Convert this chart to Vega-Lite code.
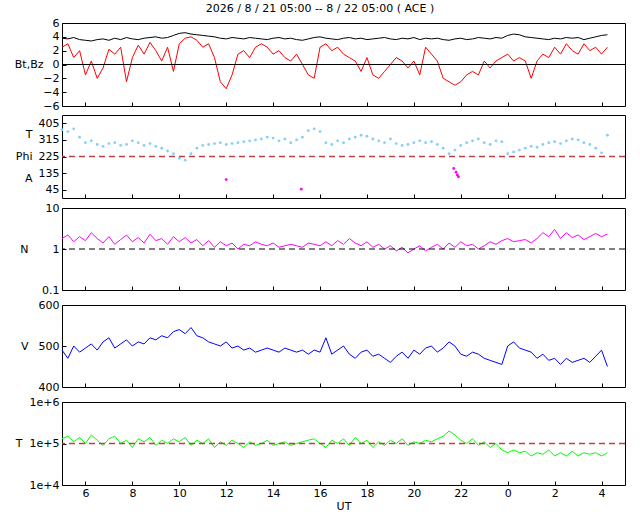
{
  "$schema": "https://vega.github.io/schema/vega-lite/v6.json",
  "padding": {"left": 13, "top": 2, "right": 2, "bottom": 2},
  "title": {"text": "2026 /  8 / 21   05:00 -- 8 / 22   05:00 ( ACE )", "font": "DejaVu Sans", "fontSize": 11, "fontWeight": "normal", "offset": 3, "anchor": "middle"},
  "spacing": 2,
  "datasets": {
    "ace": [
      {"t":5.0,"bt":3.8,"bz":2.5,"ph":370,"n":1.8,"v":490,"tp":130000},
      {"t":5.25,"bt":3.7,"bz":3.0,"ph":360,"n":2.2,"v":470,"tp":150000},
      {"t":5.5,"bt":3.9,"bz":1.0,"ph":375,"n":1.5,"v":500,"tp":110000},
      {"t":5.75,"bt":3.6,"bz":2.0,"ph":330,"n":2.0,"v":485,"tp":140000},
      {"t":6.0,"bt":3.5,"bz":-1.5,"ph":300,"n":1.6,"v":495,"tp":100000},
      {"t":6.25,"bt":3.4,"bz":0.5,"ph":310,"n":2.5,"v":505,"tp":160000},
      {"t":6.5,"bt":3.6,"bz":-2.0,"ph":290,"n":1.8,"v":490,"tp":120000},
      {"t":6.75,"bt":3.7,"bz":-0.5,"ph":280,"n":1.4,"v":510,"tp":90000},
      {"t":7.0,"bt":3.5,"bz":2.2,"ph":295,"n":2.0,"v":520,"tp":130000},
      {"t":7.25,"bt":3.8,"bz":1.5,"ph":300,"n":1.3,"v":495,"tp":150000},
      {"t":7.5,"bt":3.6,"bz":2.5,"ph":285,"n":1.7,"v":505,"tp":100000},
      {"t":7.75,"bt":3.9,"bz":-2.5,"ph":290,"n":2.2,"v":515,"tp":120000},
      {"t":8.0,"bt":3.7,"bz":1.0,"ph":310,"n":1.5,"v":500,"tp":80000},
      {"t":8.25,"bt":3.6,"bz":2.8,"ph":300,"n":1.9,"v":510,"tp":130000},
      {"t":8.5,"bt":3.8,"bz":1.5,"ph":285,"n":1.4,"v":505,"tp":110000},
      {"t":8.75,"bt":3.9,"bz":3.2,"ph":295,"n":2.3,"v":520,"tp":140000},
      {"t":9.0,"bt":4.0,"bz":2.0,"ph":280,"n":1.6,"v":515,"tp":90000},
      {"t":9.25,"bt":3.8,"bz":0.5,"ph":270,"n":1.8,"v":525,"tp":120000},
      {"t":9.5,"bt":3.9,"bz":2.5,"ph":255,"n":1.3,"v":520,"tp":100000},
      {"t":9.75,"bt":4.2,"bz":-1.0,"ph":240,"n":2.0,"v":535,"tp":130000},
      {"t":10.0,"bt":4.5,"bz":3.0,"ph":215,"n":1.5,"v":540,"tp":110000},
      {"t":10.25,"bt":4.6,"bz":3.8,"ph":205,"n":1.9,"v":530,"tp":140000},
      {"t":10.5,"bt":4.4,"bz":4.0,"ph":240,"n":1.4,"v":545,"tp":90000},
      {"t":10.75,"bt":4.3,"bz":3.5,"ph":270,"n":1.7,"v":525,"tp":120000},
      {"t":11.0,"bt":4.2,"bz":2.5,"ph":285,"n":1.2,"v":520,"tp":100000},
      {"t":11.25,"bt":4.1,"bz":3.0,"ph":290,"n":1.6,"v":510,"tp":130000},
      {"t":11.5,"bt":4.0,"bz":1.0,"ph":295,"n":1.1,"v":505,"tp":80000},
      {"t":11.75,"bt":3.8,"bz":-2.5,"ph":300,"n":1.5,"v":500,"tp":110000},
      {"t":12.0,"bt":3.7,"bz":-3.5,"ph":290,"n":1.2,"v":510,"tp":90000},
      {"t":12.25,"bt":3.9,"bz":-1.5,"ph":295,"n":1.4,"v":495,"tp":120000},
      {"t":12.5,"bt":3.8,"bz":1.5,"ph":300,"n":1.0,"v":500,"tp":100000},
      {"t":12.75,"bt":3.7,"bz":2.0,"ph":305,"n":1.3,"v":490,"tp":80000},
      {"t":13.0,"bt":3.9,"bz":1.0,"ph":310,"n":1.2,"v":495,"tp":110000},
      {"t":13.25,"bt":3.8,"bz":2.5,"ph":315,"n":1.5,"v":485,"tp":90000},
      {"t":13.5,"bt":3.7,"bz":3.0,"ph":320,"n":1.3,"v":490,"tp":100000},
      {"t":13.75,"bt":3.6,"bz":2.5,"ph":330,"n":1.2,"v":495,"tp":120000},
      {"t":14.0,"bt":3.8,"bz":1.5,"ph":325,"n":1.4,"v":490,"tp":90000},
      {"t":14.25,"bt":3.9,"bz":2.0,"ph":310,"n":1.1,"v":485,"tp":100000},
      {"t":14.5,"bt":3.7,"bz":1.0,"ph":320,"n":1.2,"v":495,"tp":110000},
      {"t":14.75,"bt":3.8,"bz":0.5,"ph":300,"n":1.3,"v":490,"tp":90000},
      {"t":15.0,"bt":3.6,"bz":1.5,"ph":315,"n":1.2,"v":485,"tp":100000},
      {"t":15.25,"bt":3.5,"bz":0.0,"ph":330,"n":1.1,"v":490,"tp":110000},
      {"t":15.5,"bt":3.7,"bz":-1.5,"ph":365,"n":1.4,"v":480,"tp":120000},
      {"t":15.75,"bt":3.9,"bz":-2.0,"ph":375,"n":1.3,"v":490,"tp":130000},
      {"t":16.0,"bt":4.0,"bz":2.5,"ph":360,"n":1.2,"v":485,"tp":100000},
      {"t":16.25,"bt":3.8,"bz":3.0,"ph":300,"n":1.5,"v":520,"tp":80000},
      {"t":16.5,"bt":3.7,"bz":2.0,"ph":290,"n":1.2,"v":480,"tp":120000},
      {"t":16.75,"bt":3.6,"bz":2.5,"ph":310,"n":1.6,"v":490,"tp":100000},
      {"t":17.0,"bt":3.8,"bz":1.5,"ph":300,"n":1.3,"v":500,"tp":130000},
      {"t":17.25,"bt":3.9,"bz":1.0,"ph":320,"n":1.8,"v":480,"tp":90000},
      {"t":17.5,"bt":3.7,"bz":0.5,"ph":330,"n":1.4,"v":470,"tp":140000},
      {"t":17.75,"bt":3.8,"bz":-1.0,"ph":340,"n":1.2,"v":485,"tp":100000},
      {"t":18.0,"bt":3.6,"bz":1.0,"ph":335,"n":1.5,"v":490,"tp":120000},
      {"t":18.25,"bt":3.7,"bz":-1.5,"ph":320,"n":1.1,"v":475,"tp":80000},
      {"t":18.5,"bt":3.8,"bz":-2.0,"ph":310,"n":1.3,"v":480,"tp":110000},
      {"t":18.75,"bt":3.9,"bz":-1.0,"ph":300,"n":1.0,"v":470,"tp":90000},
      {"t":19.0,"bt":3.7,"bz":0.0,"ph":320,"n":1.2,"v":460,"tp":120000},
      {"t":19.25,"bt":3.6,"bz":1.0,"ph":295,"n":0.9,"v":475,"tp":100000},
      {"t":19.5,"bt":3.8,"bz":0.5,"ph":285,"n":1.1,"v":485,"tp":130000},
      {"t":19.75,"bt":3.7,"bz":-0.5,"ph":290,"n":0.8,"v":470,"tp":90000},
      {"t":20.0,"bt":3.9,"bz":0.5,"ph":300,"n":1.0,"v":490,"tp":110000},
      {"t":20.25,"bt":3.6,"bz":-1.5,"ph":310,"n":1.2,"v":480,"tp":100000},
      {"t":20.5,"bt":3.8,"bz":2.5,"ph":300,"n":0.9,"v":495,"tp":120000},
      {"t":20.75,"bt":3.7,"bz":1.5,"ph":305,"n":1.1,"v":500,"tp":110000},
      {"t":21.0,"bt":3.8,"bz":0.5,"ph":290,"n":1.3,"v":485,"tp":130000},
      {"t":21.25,"bt":3.6,"bz":-2.0,"ph":270,"n":1.0,"v":495,"tp":150000},
      {"t":21.5,"bt":3.5,"bz":-2.5,"ph":240,"n":1.4,"v":510,"tp":200000},
      {"t":21.75,"bt":3.7,"bz":-3.0,"ph":260,"n":1.1,"v":500,"tp":160000},
      {"t":22.0,"bt":3.8,"bz":-2.5,"ph":285,"n":1.5,"v":480,"tp":120000},
      {"t":22.25,"bt":3.6,"bz":-1.5,"ph":300,"n":1.2,"v":475,"tp":100000},
      {"t":22.5,"bt":3.7,"bz":-1.0,"ph":310,"n":1.3,"v":485,"tp":130000},
      {"t":22.75,"bt":3.9,"bz":-1.5,"ph":320,"n":1.0,"v":480,"tp":90000},
      {"t":23.0,"bt":3.8,"bz":0.5,"ph":300,"n":1.2,"v":470,"tp":110000},
      {"t":23.25,"bt":3.7,"bz":-0.5,"ph":290,"n":1.5,"v":465,"tp":80000},
      {"t":23.5,"bt":3.9,"bz":0.5,"ph":310,"n":1.3,"v":460,"tp":100000},
      {"t":23.75,"bt":3.8,"bz":1.0,"ph":305,"n":1.6,"v":455,"tp":70000},
      {"t":24.0,"bt":4.2,"bz":1.5,"ph":240,"n":1.8,"v":500,"tp":60000},
      {"t":24.25,"bt":4.4,"bz":0.5,"ph":250,"n":1.5,"v":510,"tp":70000},
      {"t":24.5,"bt":4.3,"bz":1.0,"ph":260,"n":1.6,"v":495,"tp":60000},
      {"t":24.75,"bt":4.0,"bz":0.5,"ph":270,"n":1.7,"v":490,"tp":65000},
      {"t":25.0,"bt":3.9,"bz":-2.0,"ph":280,"n":1.4,"v":485,"tp":50000},
      {"t":25.25,"bt":3.8,"bz":0.5,"ph":275,"n":1.8,"v":470,"tp":60000},
      {"t":25.5,"bt":3.7,"bz":1.5,"ph":290,"n":2.5,"v":480,"tp":55000},
      {"t":25.75,"bt":3.6,"bz":1.0,"ph":300,"n":2.0,"v":465,"tp":70000},
      {"t":26.0,"bt":3.8,"bz":2.5,"ph":305,"n":3.0,"v":470,"tp":50000},
      {"t":26.25,"bt":3.7,"bz":1.5,"ph":295,"n":1.8,"v":455,"tp":60000},
      {"t":26.5,"bt":3.9,"bz":3.0,"ph":310,"n":2.5,"v":470,"tp":50000},
      {"t":26.75,"bt":3.8,"bz":2.0,"ph":320,"n":1.9,"v":460,"tp":65000},
      {"t":27.0,"bt":3.9,"bz":1.5,"ph":315,"n":2.2,"v":465,"tp":50000},
      {"t":27.25,"bt":3.6,"bz":3.0,"ph":300,"n":1.7,"v":470,"tp":60000},
      {"t":27.5,"bt":3.8,"bz":2.0,"ph":290,"n":2.0,"v":460,"tp":55000},
      {"t":27.75,"bt":4.0,"bz":2.5,"ph":270,"n":2.4,"v":475,"tp":60000},
      {"t":28.0,"bt":4.2,"bz":1.5,"ph":245,"n":2.0,"v":490,"tp":50000},
      {"t":28.25,"bt":4.3,"bz":2.5,"ph":340,"n":2.3,"v":450,"tp":60000}
    ],
    "alpha": [
      {"t":12.0,"a":100},{"t":15.2,"a":48},{"t":21.7,"a":160},{"t":21.8,"a":140},{"t":21.85,"a":125},{"t":21.9,"a":115}
    ]
  },
  "config": {
    "view": {"stroke": "black", "strokeWidth": 1},
    "axis": {"grid": false, "domain": false, "labelFont": "DejaVu Sans", "labelFontSize": 11, "titleFont": "DejaVu Sans", "titleFontSize": 11, "titleFontWeight": "normal", "tickColor": "black", "tickSize": -4, "labelPadding": 7, "labelColor": "black", "titleColor": "black"},
    "axisY": {"titleAngle": 0, "titleAlign": "right", "titleBaseline": "middle", "titleX": -34, "titleY": 41, "labelOverlap": false},
    "axisX": {"labelOverlap": false}
  },
  "vconcat": [
    {
      "width": 563, "height": 83,
      "layer": [
        {"data": {"name": "ace"}, "mark": {"type": "line", "color": "black", "strokeWidth": 1}, "encoding": {
          "x": {"field": "t", "type": "quantitative", "scale": {"domain": [5, 29], "nice": false}, "axis": {"values": [6,8,10,12,14,16,18,20,22,24,26,28], "labels": false, "title": null}},
          "y": {"field": "bt", "type": "quantitative", "scale": {"domain": [-6, 6]}, "axis": {"values": [-6,-4,-2,0,2,4,6], "title": "Bt,Bz", "titleX": -19}}}},
        {"data": {"name": "ace"}, "mark": {"type": "line", "color": "red", "strokeWidth": 1}, "encoding": {
          "x": {"field": "t", "type": "quantitative"},
          "y": {"field": "bz", "type": "quantitative", "axis": {"values": [-6,-4,-2,0,2,4,6], "title": "Bt,Bz", "titleX": -19}}}},
        {"data": {"values": [{"z": 0}]}, "mark": {"type": "rule", "color": "black"}, "encoding": {"y": {"field": "z", "type": "quantitative", "axis": {"values": [-6,-4,-2,0,2,4,6], "title": "Bt,Bz", "titleX": -19}}}}
      ]
    },
    {
      "width": 563, "height": 83,
      "layer": [
        {"data": {"name": "ace"}, "mark": {"type": "point", "filled": true, "size": 8, "color": "#87cefa", "opacity": 1}, "encoding": {
          "x": {"field": "t", "type": "quantitative", "scale": {"domain": [5, 29], "nice": false}, "axis": {"values": [6,8,10,12,14,16,18,20,22,24,26,28], "labels": false, "title": null}},
          "y": {"field": "ph", "type": "quantitative", "scale": {"domain": [45, 405]}, "axis": {"values": [45,135,225,315,405], "title": ["T", "Phi", "A"], "titleLineHeight": 22, "titleY": 19, "titleX": -30}}}},
        {"data": {"name": "alpha"}, "mark": {"type": "point", "filled": true, "size": 8, "color": "magenta", "opacity": 1}, "encoding": {
          "x": {"field": "t", "type": "quantitative"},
          "y": {"field": "a", "type": "quantitative", "axis": {"values": [45,135,225,315,405], "title": ["T", "Phi", "A"], "titleLineHeight": 22, "titleY": 19, "titleX": -30}}}},
        {"data": {"values": [{"z": 225}]}, "mark": {"type": "rule", "color": "#c04040", "strokeDash": [6, 4], "strokeWidth": 1.5}, "encoding": {"y": {"field": "z", "type": "quantitative", "axis": {"values": [45,135,225,315,405], "title": ["T", "Phi", "A"], "titleLineHeight": 22, "titleY": 19, "titleX": -30}}}}
      ]
    },
    {
      "width": 563, "height": 82,
      "layer": [
        {"data": {"name": "ace"}, "mark": {"type": "line", "color": "magenta", "strokeWidth": 1}, "encoding": {
          "x": {"field": "t", "type": "quantitative", "scale": {"domain": [5, 29], "nice": false}, "axis": {"values": [6,8,10,12,14,16,18,20,22,24,26,28], "labels": false, "title": null}},
          "y": {"field": "n", "type": "quantitative", "scale": {"type": "log", "domain": [0.1, 10]}, "axis": {"values": [0.1, 1, 10], "title": "N"}}}},
        {"data": {"values": [{"z": 1}]}, "mark": {"type": "rule", "color": "black", "strokeDash": [6, 4]}, "encoding": {"y": {"field": "z", "type": "quantitative", "axis": {"values": [0.1, 1, 10], "title": "N"}}}}
      ]
    },
    {
      "width": 563, "height": 82,
      "data": {"name": "ace"},
      "mark": {"type": "line", "color": "blue", "strokeWidth": 1},
      "encoding": {
        "x": {"field": "t", "type": "quantitative", "scale": {"domain": [5, 29], "nice": false}, "axis": {"values": [6,8,10,12,14,16,18,20,22,24,26,28], "labels": false, "title": null}},
        "y": {"field": "v", "type": "quantitative", "scale": {"domain": [400, 600]}, "axis": {"values": [400, 500, 600], "title": "V"}}
      }
    },
    {
      "width": 563, "height": 83,
      "layer": [
        {"data": {"name": "ace"}, "mark": {"type": "line", "color": "#00ff00", "strokeWidth": 1}, "encoding": {
          "x": {"field": "t", "type": "quantitative", "scale": {"domain": [5, 29], "nice": false}, "axis": {"values": [6,8,10,12,14,16,18,20,22,24,26,28], "labelExpr": "datum.value % 24", "labelPadding": 6, "title": "UT", "titlePadding": 2}},
          "y": {"field": "tp", "type": "quantitative", "scale": {"type": "log", "domain": [10000, 1000000]}, "axis": {"values": [10000, 100000, 1000000], "labelExpr": "'1e+' + round(log(datum.value) / LN10)", "title": "T", "titleX": -40}}}},
        {"data": {"values": [{"z": 100000}]}, "mark": {"type": "rule", "color": "#c04040", "strokeDash": [6, 4], "strokeWidth": 1.5}, "encoding": {"y": {"field": "z", "type": "quantitative", "axis": {"values": [10000, 100000, 1000000], "labelExpr": "'1e+' + round(log(datum.value) / LN10)", "title": "T", "titleX": -40}}}}
      ]
    }
  ]
}
